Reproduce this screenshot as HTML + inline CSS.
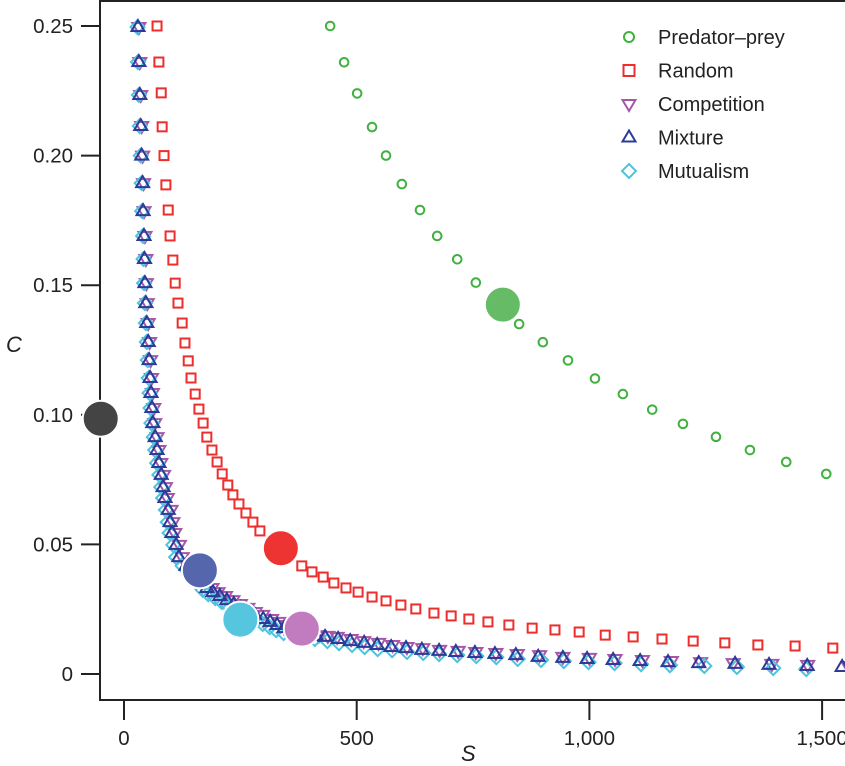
<!DOCTYPE html>
<html><head><meta charset="utf-8">
<style>
html,body{margin:0;padding:0;background:#fff;}
svg{display:block;font-family:"Liberation Sans",sans-serif;}
</style></head>
<body>
<svg id="chart" width="845" height="766" viewBox="0 0 845 766">
  <rect x="100" y="1" width="760" height="699" fill="none" stroke="#222" stroke-width="2"/>
  <g id="axes"></g>
  <g id="marks"></g>
  <g id="legend"></g>
  <text x="6" y="352" font-size="22" font-style="italic" fill="#222">C</text>
  <text x="461" y="761" font-size="22" font-style="italic" fill="#222">S</text>
</svg>
<script>
const yTicks = [0, 0.05, 0.10, 0.15, 0.20, 0.25];
const yTickLabels = ["0", "0.05", "0.10", "0.15", "0.20", "0.25"];
const xTicks = [0, 500, 1000, 1500];
const xTickLabels = ["0", "500", "1,000", "1,500"];

const predS = [443,473,501,533,563,597,636,673,716,756,801,849,900,954,1012,1072,1135,1201,1272,1345,1423,1509];
const predC = [0.25,0.236,0.224,0.211,0.2,0.189,0.179,0.169,0.16,0.151,0.143,0.135,0.128,0.121,0.114,0.108,0.102,0.0965,0.0915,0.0864,0.0818,0.0772];

const randS = [71,75,80,82,86,90,95,99,105,110,116,125,131,138,144,153,161,170,178,189,200,211,223,234,247,262,277,292,335,382,404,428,451,477,503,533,563,595,627,666,703,741,782,827,877,926,978,1034,1094,1156,1223,1291,1362,1442,1523];
const randC = [0.25,0.2361,0.2242,0.2111,0.2,0.1887,0.179,0.169,0.1597,0.1508,0.1431,0.1354,0.1277,0.1208,0.1142,0.108,0.1022,0.0968,0.0914,0.0864,0.0818,0.0772,0.0729,0.0691,0.0656,0.0621,0.0586,0.0552,0.0482,0.0417,0.0394,0.0374,0.0351,0.0332,0.0316,0.0297,0.0282,0.0266,0.0251,0.0235,0.0224,0.0212,0.0201,0.0189,0.0177,0.017,0.0162,0.015,0.0143,0.0135,0.0127,0.012,0.0112,0.0108,0.01];

const mixS = [30,32,34,36,38,40,41,43,44,45,47,49,52,54,56,58,60,62,67,71,75,80,84,88,95,99,103,112,118,133,148,163,178,191,206,221,236,251,266,281,299,314,329,344,361,378,395,413,432,460,486,516,544,574,606,640,677,713,754,797,842,890,943,995,1051,1109,1169,1235,1313,1386,1468,1543];
const mixC = [0.2496,0.2361,0.2234,0.2114,0.2,0.1894,0.1786,0.169,0.1601,0.1508,0.1431,0.1354,0.1281,0.1211,0.1142,0.1084,0.1026,0.0968,0.0914,0.0864,0.0814,0.0768,0.0721,0.0679,0.0633,0.0586,0.0544,0.0498,0.0451,0.0417,0.0382,0.0355,0.0332,0.0316,0.0301,0.0285,0.027,0.0255,0.0239,0.0228,0.0212,0.0201,0.0189,0.0177,0.0166,0.0158,0.015,0.0147,0.0143,0.0135,0.0127,0.012,0.0112,0.0104,0.01,0.0093,0.0089,0.0085,0.0081,0.0077,0.0073,0.0066,0.0062,0.0058,0.0054,0.005,0.0046,0.0042,0.0039,0.0035,0.0031,0.0027];
const compS = [32,34,36,38,40,42,43,45,47,48,50,52,55,57,59,61,64,66,71,75,79,85,89,93,101,105,109,119,125,141,157,173,189,202,218,234,250,266,282,298,317,333,349,365,383,401,419,438,458,488,515,547,577,608,642,678,718,756,799,845,893,943,1000,1055,1114,1176,1239,1309,1392,1469,1556,1636];
const compC = mixC;
const mutS = [29,30,32,34,36,38,39,41,42,43,45,47,49,51,53,55,57,59,64,67,71,76,80,84,90,94,98,106,112,126,141,155,169,181,196,210,224,238,253,267,284,298,313,327,343,359,375,392,410,437,462,490,517,545,576,608,643,677,716,757,800,846,896,945,998,1054,1111,1173,1247,1317,1395,1466];
const mutC = [0.2496,0.2361,0.2234,0.2114,0.2,0.1894,0.1786,0.169,0.1601,0.1508,0.1431,0.1354,0.1281,0.1211,0.1142,0.1084,0.1026,0.0968,0.0914,0.0864,0.0814,0.0768,0.0721,0.0679,0.0633,0.0586,0.0544,0.0498,0.0451,0.0417,0.0382,0.0355,0.0325,0.0308,0.0293,0.0278,0.0262,0.0247,0.0231,0.022,0.0204,0.0193,0.0181,0.0169,0.0158,0.015,0.0142,0.0139,0.0135,0.0127,0.0119,0.0112,0.0104,0.0096,0.0092,0.0085,0.0081,0.0077,0.0073,0.0069,0.0065,0.0058,0.0054,0.005,0.0046,0.0042,0.0038,0.0034,0.0031,0.0027,0.0023,0.0019];

const highlightNames = ["baseline","predator-prey","random","mixture","mutualism","competition"];
const highlightS = [-50, 814, 337, 163, 250, 382];
const highlightC = [0.0985, 0.1425, 0.0485, 0.0400, 0.0210, 0.0175];
const highlightColors = ["#444444","#66bb66","#ee3333","#5566ad","#55c6de","#c07cbf"];

const legendLabels = ["Predator\u2013prey","Random","Competition","Mixture","Mutualism"];

const NS = "http://www.w3.org/2000/svg";
function xScale(s){ return 124 + s * 0.4654; }
function yScale(c){ return 674 - c * 2592; }
function mk(tag, attrs, parent){
  const e = document.createElementNS(NS, tag);
  for (const k in attrs) e.setAttribute(k, attrs[k]);
  parent.appendChild(e); return e;
}
const axes = document.getElementById('axes');
const marks = document.getElementById('marks');
const legend = document.getElementById('legend');

yTicks.forEach((t,i)=>{
  const y = yScale(t);
  const l = mk('line',{x1:81,x2:100,y1:y,y2:y,stroke:'#222','stroke-width':2},axes);
  
  
  const tx = mk('text',{x:73,y:y+7,'font-size':20.5,'text-anchor':'end',fill:'#222'},axes);
  tx.textContent = yTickLabels[i];
  
  
});
xTicks.forEach((t,i)=>{
  const x = xScale(t);
  const l = mk('line',{x1:x,x2:x,y1:700,y2:720,stroke:'#222','stroke-width':2},axes);
  
  
  const tx = mk('text',{x:x,y:745,'font-size':20.5,'text-anchor':'middle',fill:'#222'},axes);
  tx.textContent = xTickLabels[i];
  
  
});

function circ(x,y,col,g){ return mk('circle',{cx:x,cy:y,r:4.3,fill:'none',stroke:col,'stroke-width':2},g); }
function sq(x,y,col,g){ return mk('rect',{x:x-4.5,y:y-4.5,width:9,height:9,fill:'none',stroke:col,'stroke-width':2},g); }
function triDown(x,y,col,g){ return mk('polygon',{points:`${x-6.5},${y-4} ${x+6.5},${y-4} ${x},${y+7}`,fill:'none',stroke:col,'stroke-width':2},g); }
function triUp(x,y,col,g){ return mk('polygon',{points:`${x-6.5},${y+4} ${x+6.5},${y+4} ${x},${y-7}`,fill:'none',stroke:col,'stroke-width':2},g); }
function diam(x,y,col,g){ return mk('polygon',{points:`${x},${y-7} ${x+7},${y} ${x},${y+7} ${x-7},${y}`,fill:'none',stroke:col,'stroke-width':2},g); }

const series = [
  {name:'series-competition', S:compS, C:compC, fn:triDown, col:'#a857a8'},
  {name:'series-mutualism', S:mutS, C:mutC, fn:diam, col:'#4ec3de'},
  {name:'series-mixture', S:mixS, C:mixC, fn:triUp, col:'#2d3b98'},
  {name:'series-random', S:randS, C:randC, fn:sq, col:'#ee2d2d'},
  {name:'series-predator-prey', S:predS, C:predC, fn:circ, col:'#3fb13f'}
];
series.forEach(sr=>{
  const g = mk('g',{},marks);
  
  
  const n = Math.min(sr.S.length, sr.C.length);
  for (let i=0;i<n;i++){
    const m = sr.fn(xScale(sr.S[i]), yScale(sr.C[i]), sr.col, g);
    
    
  }
});
highlightS.forEach((s,i)=>{
  const c = mk('circle',{cx:xScale(s),cy:yScale(highlightC[i]),r:18,fill:highlightColors[i],stroke:'#fff','stroke-width':2},marks);
  
  
});

const legendFns = [circ, sq, triDown, triUp, diam];
const legendCols = ['#3fb13f','#ee2d2d','#a857a8','#2d3b98','#4ec3de'];
legendLabels.forEach((lab,i)=>{
  const y = 37 + i*33.5;
  const m = legendFns[i](629, y, legendCols[i], legend);
  if (i===0) m.setAttribute('r', 5);
  if (i===1) { m.setAttribute('x', 623.5); m.setAttribute('y', y-5.5); m.setAttribute('width', 11); m.setAttribute('height', 11); }
  
  
  const t = mk('text',{x:658,y:y+7,'font-size':20,fill:'#222'},legend);
  t.textContent = lab;
  
  
});
</script>
</body></html>
